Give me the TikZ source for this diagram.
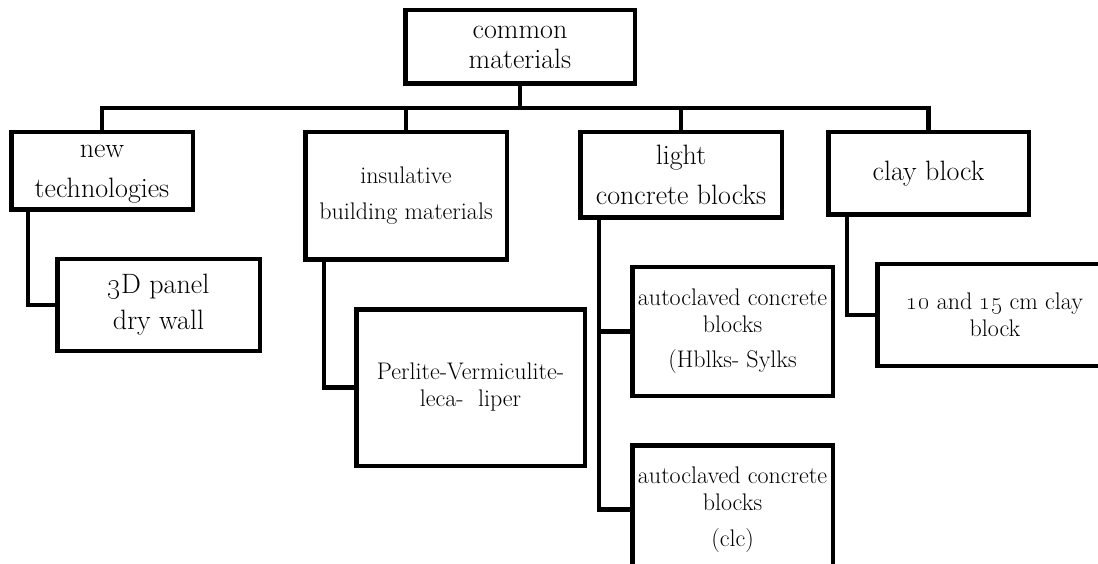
\documentclass[tikz,border=0pt]{standalone}
\begin{document}
\begin{tikzpicture}[x=1pt,y=-1pt,
  box/.style={draw, line width=4.5pt, align=center, inner sep=0pt},
  bigtxt/.style={font=\fontsize{28}{30}\selectfont},
  smalltxt/.style={font=\fontsize{24}{27}\selectfont},
  link/.style={line width=4.5pt}]
  \useasboundingbox (0,0) rectangle (1098,564);
  \clip (0,0) rectangle (1098,564);
  % root box
  \node[box, bigtxt, minimum width=229.5pt, minimum height=73.5pt] (root) at (520,47) {common\\materials};
  \coordinate (bus) at (520,108);
  % first level
  \node[box, bigtxt, minimum width=181.5pt, minimum height=77.5pt] (newtech) at (102,171) {\vphantom{lb}new\\[10pt]technologies};
  \node[box, smalltxt, minimum width=201.5pt, minimum height=127.5pt] (insul) at (406,196) {insulative\\[9pt]building materials};
  \node[box, bigtxt, minimum width=201.5pt, minimum height=85.5pt] (light) at (681,175) {light\\[10pt]concrete blocks};
  \node[box, bigtxt, minimum width=200.5pt, minimum height=82.5pt] (clay) at (928.5,173.5) {clay block};
  % second level
  \node[box, bigtxt, minimum width=202.5pt, minimum height=91.5pt] (panel) at (158.5,305) {\oldstylenums{3}D panel\\[6pt]dry wall};
  \node[box, smalltxt, minimum width=228.5pt, minimum height=156.5pt] (perlite) at (470.5,387.5) {Perlite-Vermiculite-\\leca-~~liper};
  \node[box, smalltxt, minimum width=200.5pt, minimum height=128.5pt] (aac) at (732.5,331.5) {autoclaved concrete\\blocks\\[8pt](Hblks- Sylks};
  \node[box, smalltxt, minimum width=200.5pt, minimum height=128.5pt] (clc) at (732.5,509.5) {autoclaved concrete\\blocks\\[9pt](clc)};
  \node[box, smalltxt, minimum width=235pt, minimum height=102pt] (claybl) at (995,315) {\oldstylenums{10} and \oldstylenums{15} cm clay\\block};
  % connectors
  \draw[link] (root.south) -- (bus);
  \foreach \c in {newtech,insul,light,clay}{\draw[link] (\c.north) |- (bus);}
  \draw[link] (28,0 |- newtech.south) |- (panel.west);
  \draw[link] (324,0 |- insul.south) |- (perlite.west);
  \draw[link] (599,0 |- light.south) |- (clc.west);
  \draw[link] (599,0 |- aac.west) -- (aac.west);
  \draw[link] (847,0 |- clay.south) |- (claybl.west);
\end{tikzpicture}
\end{document}
